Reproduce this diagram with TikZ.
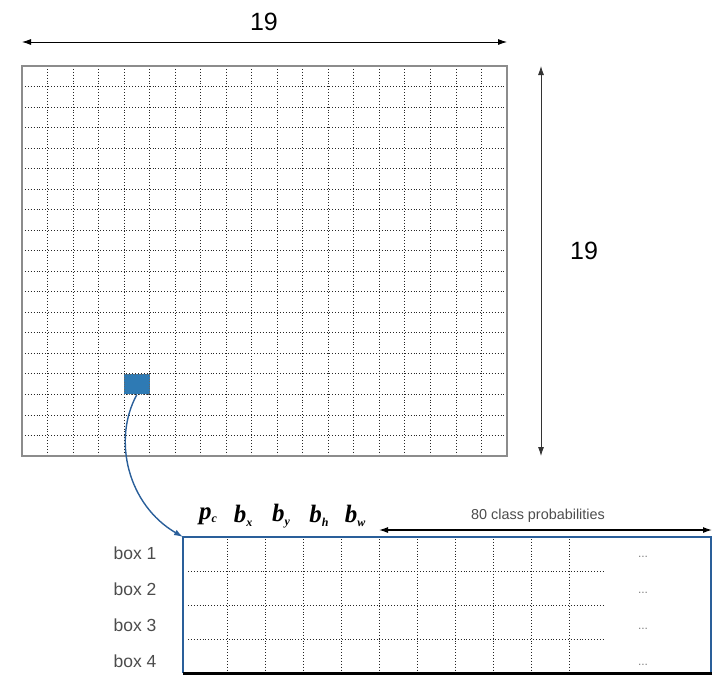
\documentclass[tikz,border=0pt]{standalone}
\usepackage{fontspec}
\setmainfont{Liberation Sans}
\newfontfamily\fieldfont{Liberation Serif}
\usepackage{amsmath,amssymb}
\usetikzlibrary{arrows.meta,positioning,calc}
\definecolor{cellblue}{HTML}{2E7AB4}
\definecolor{linkblue}{HTML}{2A5F9A}
\newcommand{\fieldname}[2]{{\fieldfont\bfseries\itshape #1\raisebox{-0.3ex}{\fontsize{12}{12}\selectfont #2}}}

\begin{document}
\begin{tikzpicture}[x=1pt,y=-1pt,
  dimarrow/.style={thick,{Latex[length=9pt,width=6pt]}-{Latex[length=9pt,width=6pt]}},
  gridline/.style={black!85,dotted,line width=0.9pt},
  rowlabel/.style={font=\fontsize{17.5}{20}\selectfont,text=black!70},
  fieldlabel/.style={font=\fontsize{25}{27}\selectfont}]
\useasboundingbox (0,0) rectangle (712,681);

% Grid 19 x 19
\coordinate (gNW) at (22,66);
\coordinate (gSE) at (507,456);
\foreach \i in {1,...,18} {
  \draw[gridline] ({22+\i*485/19},66) -- ({22+\i*485/19},456);
  \draw[gridline] (22,{66+\i*390/19}) -- (507,{66+\i*390/19});
}
\draw[black!45,line width=1.2pt] (gNW) rectangle (gSE);

% Highlighted cell
\node[fill=cellblue,draw=black!60,dotted,minimum width=25.5pt,minimum height=20.5pt,inner sep=0pt]
  (cell) at ({22+4.5*485/19},{66+15.5*390/19}) {};

% Dimension arrows
\coordinate (topL) at (22,42);
\coordinate (topR) at (507,42);
\draw[dimarrow] (topL) -- (topR);
\node[font=\fontsize{25}{28}\selectfont] (wlabel) at (264,22) {19};
\coordinate (sideT) at (541,66);
\coordinate (sideB) at (541,456);
\draw[dimarrow,black!80] (sideT) -- (sideB);
\node[font=\fontsize{25}{28}\selectfont] (hlabel) at (584,251) {19};

% Output vector table
\coordinate (tab) at (183,537);
\coordinate (tabNE) at (711,537);
\coordinate (tabSW) at (183,673);
\coordinate (tabSE) at (712,673);
\foreach \x in {227,265,...,569} {
  \draw[gridline] (\x,539) -- (\x,673);
}
\foreach \y in {571,605,639} {
  \draw[gridline] (188,\y) -- (605,\y);
}
\draw[linkblue,line width=1.3pt] (tabSW) -- (tab) -- (tabNE) -- (711,673);
\draw[black,line width=3pt] (tabSW) -- (tabSE);

% Rows
\foreach \n/\y in {1/553,2/589,3/625,4/661} {
  \node[rowlabel] (box\n) at (135,\y) {box \n};
  \node[font=\fontsize{12}{14}\selectfont,text=black!50] (dots\n) at (643,\y+4) {...};
}

% Field labels
\node[fieldlabel] (pc) at (208,516) {\fieldname{p}{c}};
\node[fieldlabel] (bx) at (243,516) {\fieldname{b}{x}};
\node[fieldlabel] (by) at (281,516) {\fieldname{b}{y}};
\node[fieldlabel] (bh) at (319,516) {\fieldname{b}{h}};
\node[fieldlabel] (bw) at (355,516) {\fieldname{b}{w}};
\coordinate (clsL) at (379,530);
\coordinate (clsR) at (712,530);
\draw[dimarrow,line width=1.2pt] (clsL) -- (clsR);
\node[font=\fontsize{14.4}{16}\selectfont,text=black!70] (cls) at (538,516) {80 class probabilities};

% Link from cell to vector
\draw[linkblue,line width=1.4pt,-{Latex[length=9pt,width=6pt]}]
  (cell.south) .. controls (112,440) and (128,505) .. (tab);
\end{tikzpicture}
\end{document}
